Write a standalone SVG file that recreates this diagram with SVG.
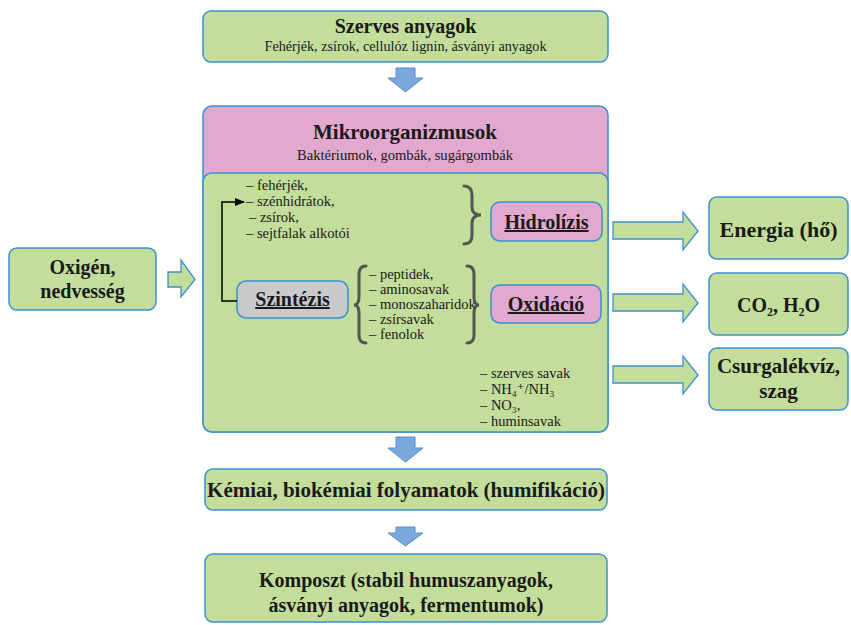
<svg xmlns="http://www.w3.org/2000/svg" width="851" height="625" viewBox="0 0 851 625">
<defs>
<style>
.box{fill:#c3dd9b;stroke:#3b8fd4;stroke-width:1.5}
.pink{fill:#e2a8cd;stroke:#3b8fd4;stroke-width:1.5}
.gray{fill:#cacaca;stroke:#3b8fd4;stroke-width:1.5}
.down{fill:#79a8dc;stroke:#5a8fc8;stroke-width:1}
.rarrow{fill:#c3dd9b;stroke:#3b8fd4;stroke-width:1.3}
text{fill:#1a1a1a;font-family:'Liberation Serif','Times New Roman','DejaVu Serif',serif}
.t{font-weight:bold;font-size:20px;text-anchor:middle}
.s{font-size:14px;text-anchor:middle}
.l{font-size:14.5px}
.u{text-decoration:underline}
.brace{fill:none;stroke:#555;stroke-width:3;stroke-linecap:round}
</style>
<marker id="ah" markerWidth="10" markerHeight="8" refX="9" refY="4" orient="auto" markerUnits="userSpaceOnUse">
<path d="M0,0 L10,4 L0,8 Z" fill="#000"/>
</marker>
</defs>
<g id="szerves">
<rect class="box" x="203" y="11" width="405" height="51" rx="8"/>
<text class="t" x="405.500" y="33">Szerves anyagok</text>
<text class="s" x="405.500" y="51" textLength="282" lengthAdjust="spacingAndGlyphs">Fehérjék, zsírok, cellulóz lignin, ásványi anyagok</text>
</g>

<g id="mikro">
<rect class="pink" x="203" y="106" width="405" height="326" rx="9"/>
<text class="t" x="405" y="139" style="font-size:21px">Mikroorganizmusok</text>
<text class="s" x="405" y="160" textLength="216" lengthAdjust="spacingAndGlyphs">Baktériumok, gombák, sugárgombák</text>
<rect class="box" x="203" y="173" width="405" height="259" rx="9"/>
</g>

<g id="lista1">
<text class="l" x="246" y="190">– fehérjék,</text>
<text class="l" x="246" y="206">– szénhidrátok,</text>
<text class="l" x="249" y="222">– zsírok,</text>
<text class="l" x="246" y="238">– sejtfalak alkotói</text>
<path class="brace" d="M464,186 Q472,186 472,195 L472,207 Q472,215 481,215 Q472,215 472,223 L472,235 Q472,244 464,244"/>
</g>

<g id="hidrolizis">
<rect class="pink" x="491" y="202" width="111" height="39" rx="9"/>
<text class="t u" x="546.500" y="229">Hidrolízis</text>
</g>

<g id="szintezis">
<rect class="gray" x="237" y="281" width="111" height="37" rx="9"/>
<text class="t u" x="292.500" y="306">Szintézis</text>
</g>

<g id="lista2">
<path class="brace" d="M366,266 Q359,266 359,274 L359,297 Q359,305 354,305 Q359,305 359,313 L359,335 Q359,343 366,343"/>
<text class="l" x="369" y="279">– peptidek,</text>
<text class="l" x="369" y="294">– aminosavak</text>
<text class="l" x="369" y="309">– monoszaharidok</text>
<text class="l" x="369" y="324">– zsírsavak</text>
<text class="l" x="369" y="339">– fenolok</text>
<path class="brace" d="M467,266 Q474,266 474,274 L474,297 Q474,305 479,305 Q474,305 474,313 L474,335 Q474,343 467,343"/>
</g>

<g id="oxidacio">
<rect class="pink" x="491" y="285" width="110" height="38" rx="9"/>
<text class="t u" x="546" y="311">Oxidáció</text>
</g>

<g id="lista3">
<text class="l" x="480" y="378">– szerves savak</text>
<text class="l" x="480" y="394">– NH₄⁺/NH₃</text>
<text class="l" x="480" y="410">– NO₃,</text>
<text class="l" x="480" y="426">– huminsavak</text>
</g>

<g id="oxigen">
<rect class="box" x="9" y="248" width="147" height="62" rx="8"/>
<text class="t" x="82.500" y="274">Oxigén,</text>
<text class="t" x="82.500" y="298">nedvesség</text>
</g>

<g id="energia">
<rect class="box" x="709" y="197" width="139" height="62" rx="8"/>
<text class="t" x="778.500" y="237" style="font-size:22px">Energia (hő)</text>
</g>

<g id="co2">
<rect class="box" x="709" y="273" width="139" height="62" rx="8"/>
<text class="t" x="778.500" y="312">CO₂, H₂O</text>
</g>

<g id="csurgalek">
<rect class="box" x="709" y="348" width="139" height="62" rx="8"/>
<text class="t" x="778.500" y="373" style="font-size:21px">Csurgalékvíz,</text>
<text class="t" x="778.500" y="398" style="font-size:21px">szag</text>
</g>

<g id="kemiai">
<rect class="box" x="205" y="469" width="402" height="41" rx="8"/>
<text class="t" x="406" y="497" style="font-size:21px">Kémiai, biokémiai folyamatok (humifikáció)</text>
</g>

<g id="komposzt">
<rect class="box" x="205" y="554" width="402" height="68" rx="8"/>
<text class="t" x="406" y="587">Komposzt (stabil humuszanyagok,</text>
<text class="t" x="406" y="612">ásványi anyagok, fermentumok)</text>
</g>

<g id="connectors">
<path class="down" d="M396,68 H415 V78 H423 L405.500,92 L388,78 H396 Z"/>
<path class="down" d="M396,437 H415 V448 H423 L405.500,462 L388,448 H396 Z"/>
<path class="down" d="M396,527 H415 V533 H423 L405.500,546 L388,533 H396 Z"/>
<path class="rarrow" d="M168,272 H181 V260 L195,279.500 L181,297 V287 H168 Z"/>
<path class="rarrow" d="M613,222 H683 V212 L698,231 L683,250 V239 H613 Z"/>
<path class="rarrow" d="M613,294 H683 V284 L698,303 L683,322 V311 H613 Z"/>
<path class="rarrow" d="M613,366 H683 V356 L698,375 L683,394 V383 H613 Z"/>
<path d="M237,301 H222 V202 H244" fill="none" stroke="#000" stroke-width="1.5" marker-end="url(#ah)"/>
</g>
</svg>
